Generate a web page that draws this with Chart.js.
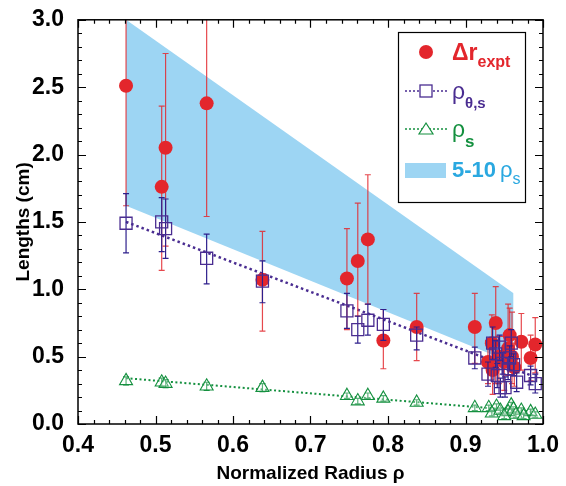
<!DOCTYPE html>
<html>
<head>
<meta charset="utf-8">
<script src="https://cdn.jsdelivr.net/npm/chart.js@4/dist/chart.umd.min.js"></script>
<style>
  html, body { margin: 0; padding: 0; background: #fff; }
</style>
</head>
<body>
<canvas id="lengthsChart" width="566" height="486"></canvas>
<script>
const drRho = [0.462, 0.508, 0.513, 0.566, 0.638, 0.747, 0.761, 0.774, 0.794, 0.837, 0.912, 0.939, 0.934, 0.929, 0.935, 0.943, 0.950, 0.955, 0.957, 0.960, 0.963, 0.972, 0.984, 0.990];
const drVal = [2.51, 1.76, 2.05, 2.38, 1.07, 1.08, 1.21, 1.37, 0.62, 0.72, 0.72, 0.75, 0.60, 0.46, 0.40, 0.50, 0.46, 0.56, 0.66, 0.50, 0.42, 0.61, 0.49, 0.59];
const drLo  = [1.62, 1.14, 1.32, 1.54, 0.69, 0.70, 0.80, 0.89, 0.41, 0.47, 0.45, 0.30, 0.40, 0.30, 0.22, 0.30, 0.25, 0.36, 0.42, 0.30, 0.28, 0.40, 0.32, 0.38];
const drHi  = [3.30, 2.36, 2.75, 3.30, 1.43, 1.45, 1.64, 1.85, 0.85, 0.97, 0.97, 1.02, 0.81, 0.62, 0.55, 0.65, 0.65, 0.89, 0.86, 0.83, 0.60, 0.82, 0.66, 0.79];

const rtsRho = [0.462, 0.508, 0.513, 0.566, 0.638, 0.747, 0.761, 0.774, 0.794, 0.837, 0.912, 0.935, 0.959, 0.939, 0.957, 0.929, 0.941, 0.945, 0.951, 0.966, 0.984, 0.990, 0.955, 0.948, 0.962, 0.944];
const rtsVal = [1.49, 1.50, 1.45, 1.23, 1.06, 0.84, 0.70, 0.77, 0.74, 0.66, 0.49, 0.60, 0.60, 0.52, 0.49, 0.37, 0.36, 0.27, 0.27, 0.31, 0.36, 0.30, 0.41, 0.45, 0.44, 0.57];
const rtsLo  = [1.27, 1.28, 1.23, 1.04, 0.90, 0.71, 0.60, 0.66, 0.62, 0.55, 0.41, 0.48, 0.50, 0.42, 0.40, 0.28, 0.27, 0.20, 0.20, 0.24, 0.29, 0.23, 0.33, 0.37, 0.36, 0.47];
const rtsHi  = [1.71, 1.68, 1.67, 1.41, 1.21, 0.97, 0.80, 0.89, 0.85, 0.72, 0.57, 0.72, 0.70, 0.62, 0.58, 0.46, 0.45, 0.34, 0.35, 0.38, 0.43, 0.37, 0.49, 0.53, 0.52, 0.66];

const rsRho = [0.462, 0.508, 0.513, 0.566, 0.638, 0.747, 0.761, 0.774, 0.794, 0.837, 0.912, 0.930, 0.940, 0.934, 0.945, 0.959, 0.955, 0.962, 0.972, 0.965, 0.984, 0.990, 0.950, 0.975];
const rsVal = [0.32, 0.31, 0.30, 0.28, 0.27, 0.21, 0.17, 0.21, 0.19, 0.16, 0.12, 0.12, 0.13, 0.08, 0.10, 0.14, 0.09, 0.11, 0.10, 0.07, 0.09, 0.07, 0.06, 0.06];
const rsErr = [0.03, 0.03, 0.03, 0.03, 0.03, 0.02, 0.02, 0.02, 0.02, 0.02, 0.02, 0.02, 0.02, 0.02, 0.02, 0.02, 0.02, 0.02, 0.02, 0.02, 0.02, 0.02, 0.02, 0.02];

// Trend lines and the 5-10 rho_s band
const thetaFitRho = [0.462, 0.985];
const thetaFitVal = [1.50, 0.36];
const sFitRho = [0.462, 0.990];
const sFitVal = [0.34, 0.09];
const bandRho = [0.462, 0.962];
const bandHi  = [3.00, 0.97];
const bandLo  = [1.62, 0.45];

// Axis ticks
const xTickLabels = ['0.4', '0.5', '0.6', '0.7', '0.8', '0.9', '1.0'];
const yTickLabels = ['0.0', '0.5', '1.0', '1.5', '2.0', '2.5', '3.0'];

const RED = '#e3262c';
const PURPLE = '#4a2d91';
const GREEN = '#14903f';
const BAND = '#9dd5f3';
const BAND_TEXT = '#2aa8e0';
const FONT = "'Liberation Sans', Arial, sans-serif";
const TICK_FONT = "'Liberation Sans Narrow', 'Arial Narrow', 'Liberation Sans', Arial, sans-serif";

function toPoints(xs, ys) {
    return xs.map((x, i) => ({ x: x, y: ys[i] }));
}

// Vertical error bars, drawn just before their own dataset
const errorBars = {
    id: 'errorBars',
    beforeDatasetDraw(chart, args) {
        const ds = chart.data.datasets[args.index];
        if (!ds.errLo) return;
        const { ctx, chartArea, scales } = chart;
        ctx.save();
        ctx.beginPath();
        ctx.rect(chartArea.left, chartArea.top, chartArea.width, chartArea.height);
        ctx.clip();
        ctx.strokeStyle = ds.errColor;
        ctx.lineWidth = 1.2;
        ds.data.forEach((p, i) => {
            const px = scales.x.getPixelForValue(p.x);
            const top = scales.y.getPixelForValue(ds.errHi[i]);
            const bot = scales.y.getPixelForValue(ds.errLo[i]);
            ctx.beginPath();
            ctx.moveTo(px, top); ctx.lineTo(px, bot);
            ctx.moveTo(px - 3, top); ctx.lineTo(px + 3, top);
            ctx.moveTo(px - 3, bot); ctx.lineTo(px + 3, bot);
            ctx.stroke();
        });
        ctx.restore();
    }
};

// Box frame with inward ticks on all four sides
const frameTicks = {
    id: 'frameTicks',
    afterDatasetsDraw(chart) {
        const { ctx, chartArea: a, scales } = chart;
        ctx.save();
        ctx.strokeStyle = '#000';
        ctx.lineWidth = 1.5;
        ctx.strokeRect(a.left, a.top, a.width, a.height);
        ctx.lineWidth = 1.2;
        ctx.beginPath();
        for (let k = 0; k <= 30; k++) {
            const v = 0.4 + k * 0.02;
            const px = Math.round(scales.x.getPixelForValue(v)) + 0.5;
            const len = k % 5 === 0 ? 8 : 4;
            ctx.moveTo(px, a.bottom); ctx.lineTo(px, a.bottom - len);
            ctx.moveTo(px, a.top); ctx.lineTo(px, a.top + len);
        }
        for (let k = 0; k <= 30; k++) {
            const v = k * 0.1;
            const py = Math.round(scales.y.getPixelForValue(v)) + 0.5;
            const len = k % 5 === 0 ? 8 : 4;
            ctx.moveTo(a.left, py); ctx.lineTo(a.left + len, py);
            ctx.moveTo(a.right, py); ctx.lineTo(a.right - len, py);
        }
        ctx.stroke();
        ctx.restore();
    }
};

// Legend with subscripts, drawn by hand
const subLegend = {
    id: 'subLegend',
    afterDraw(chart) {
        const ctx = chart.ctx;
        const bx = 398, by = 32, bw = 127, bh = 170;
        ctx.save();
        ctx.fillStyle = '#fff';
        ctx.fillRect(bx, by, bw, bh);
        ctx.strokeStyle = '#000';
        ctx.lineWidth = 1.2;
        ctx.strokeRect(bx + 0.5, by + 0.5, bw, bh);

        const sx = 426, tx = 452;
        ctx.textBaseline = 'alphabetic';

        // Delta r expt
        ctx.fillStyle = RED;
        ctx.beginPath(); ctx.arc(sx, 52, 7, 0, Math.PI * 2); ctx.fill();
        ctx.font = 'bold 23px ' + FONT;
        ctx.fillText('\u0394r', tx, 60);
        let w = ctx.measureText('\u0394r').width;
        ctx.font = 'bold 16px ' + FONT;
        ctx.fillText('expt', tx + w, 67);

        // rho theta,s
        ctx.strokeStyle = PURPLE;
        ctx.lineWidth = 1.5;
        ctx.setLineDash([2, 2]);
        ctx.beginPath(); ctx.moveTo(405, 91); ctx.lineTo(447, 91); ctx.stroke();
        ctx.setLineDash([]);
        ctx.lineWidth = 1.3;
        ctx.clearRect(sx - 6, 85, 12, 12);
        ctx.strokeRect(sx - 6, 85, 12, 12);
        ctx.fillStyle = PURPLE;
        ctx.font = '23px ' + FONT;
        ctx.fillText('\u03c1', tx, 99);
        w = ctx.measureText('\u03c1').width;
        ctx.font = 'bold 15px ' + FONT;
        ctx.fillText('\u03b8,s', tx + w, 108);

        // rho s
        ctx.strokeStyle = GREEN;
        ctx.lineWidth = 1.5;
        ctx.setLineDash([2, 2]);
        ctx.beginPath(); ctx.moveTo(405, 129); ctx.lineTo(447, 129); ctx.stroke();
        ctx.setLineDash([]);
        ctx.lineWidth = 1.2;
        ctx.fillStyle = '#fff';
        ctx.beginPath();
        ctx.moveTo(sx, 123); ctx.lineTo(sx + 7, 134); ctx.lineTo(sx - 7, 134); ctx.closePath();
        ctx.fill(); ctx.stroke();
        ctx.fillStyle = GREEN;
        ctx.font = '23px ' + FONT;
        ctx.fillText('\u03c1', tx, 137);
        w = ctx.measureText('\u03c1').width;
        ctx.font = 'bold 17px ' + FONT;
        ctx.fillText('s', tx + w, 147);

        // 5-10 rho s band
        ctx.fillStyle = BAND;
        ctx.fillRect(405, 163, 41, 15);
        ctx.fillStyle = BAND_TEXT;
        ctx.font = 'bold 22px ' + FONT;
        ctx.fillText('5-10', tx, 177);
        ctx.font = '22px ' + FONT;
        ctx.fillText('\u03c1', 500, 177);
        w = ctx.measureText('\u03c1').width;
        ctx.font = '16px ' + FONT;
        ctx.fillText('s', 500 + w, 184);
        ctx.restore();
    }
};

function createLengthsChart() {
    const ctx = document.getElementById('lengthsChart');
    return new Chart(ctx, {
        type: 'line',
        data: {
            datasets: [
                {
                    label: 'band top',
                    data: toPoints(bandRho, bandHi),
                    borderWidth: 0,
                    pointRadius: 0,
                    backgroundColor: BAND,
                    fill: '+1',
                    order: 10
                },
                {
                    label: 'band bottom',
                    data: toPoints(bandRho, bandLo),
                    borderWidth: 0,
                    pointRadius: 0,
                    fill: false,
                    order: 9
                },
                {
                    label: 'theta fit',
                    data: toPoints(thetaFitRho, thetaFitVal),
                    borderColor: PURPLE,
                    borderWidth: 2.5,
                    borderDash: [2.5, 3],
                    pointRadius: 0,
                    fill: false,
                    order: 8
                },
                {
                    label: 's fit',
                    data: toPoints(sFitRho, sFitVal),
                    borderColor: GREEN,
                    borderWidth: 2,
                    borderDash: [2, 2.5],
                    pointRadius: 0,
                    fill: false,
                    order: 7
                },
                {
                    label: '\u0394r expt',
                    data: toPoints(drRho, drVal),
                    errLo: drLo,
                    errHi: drHi,
                    errColor: 'rgba(226, 40, 46, 0.85)',
                    showLine: false,
                    pointStyle: 'circle',
                    pointRadius: 7,
                    pointBackgroundColor: RED,
                    pointBorderColor: RED,
                    pointBorderWidth: 0,
                    order: 3
                },
                {
                    label: '\u03c1\u03b8,s',
                    data: toPoints(rtsRho, rtsVal),
                    errLo: rtsLo,
                    errHi: rtsHi,
                    errColor: '#2e1f8c',
                    showLine: false,
                    pointStyle: 'rect',
                    pointRadius: 8.5,
                    pointBackgroundColor: 'rgba(0,0,0,0)',
                    pointBorderColor: PURPLE,
                    pointBorderWidth: 1.3,
                    order: 2
                },
                {
                    label: '\u03c1s',
                    data: toPoints(rsRho, rsVal),
                    errLo: rsVal.map((v, i) => v - rsErr[i]),
                    errHi: rsVal.map((v, i) => v + rsErr[i]),
                    errColor: GREEN,
                    showLine: false,
                    pointStyle: 'triangle',
                    pointRadius: 7.5,
                    pointBackgroundColor: 'rgba(255,255,255,0.3)',
                    pointBorderColor: GREEN,
                    pointBorderWidth: 1.1,
                    order: 1
                }
            ]
        },
        options: {
            responsive: false,
            animation: false,
            devicePixelRatio: 1,
            layout: { padding: { top: 18, right: 23, left: 0, bottom: 0 } },
            plugins: {
                legend: { display: false },
                tooltip: { enabled: false }
            },
            scales: {
                x: {
                    type: 'linear',
                    min: 0.4,
                    max: 1.0,
                    afterBuildTicks: (scale) => {
                        scale.ticks = xTickLabels.map(t => ({ value: parseFloat(t) }));
                    },
                    afterFit: (scale) => { scale.height = 62; },
                    grid: { display: false },
                    border: { display: false },
                    ticks: {
                        padding: 0,
                        color: '#000',
                        maxRotation: 0,
                        font: { family: TICK_FONT, size: 23, weight: 'bold' },
                        callback: (v) => xTickLabels.find(t => Math.abs(parseFloat(t) - v) < 1e-6) || ''
                    },
                    title: {
                        display: true,
                        text: 'Normalized Radius \u03c1',
                        color: '#000',
                        font: { family: FONT, size: 19, weight: 'bold' },
                        padding: { top: 0, bottom: 1 }
                    }
                },
                y: {
                    type: 'linear',
                    min: 0,
                    max: 3.0,
                    afterBuildTicks: (scale) => {
                        scale.ticks = yTickLabels.map(t => ({ value: parseFloat(t) }));
                    },
                    afterFit: (scale) => { scale.width = 78; },
                    grid: { display: false },
                    border: { display: false },
                    ticks: {
                        padding: 6,
                        color: '#000',
                        font: { family: TICK_FONT, size: 23, weight: 'bold' },
                        callback: (v) => yTickLabels.find(t => Math.abs(parseFloat(t) - v) < 1e-6) || ''
                    },
                    title: {
                        display: true,
                        text: 'Lengths (cm)',
                        color: '#000',
                        font: { family: FONT, size: 19, weight: 'bold' },
                        padding: { top: 12, bottom: 0 }
                    }
                }
            }
        },
        plugins: [errorBars, frameTicks, subLegend]
    });
}

createLengthsChart();
</script>
</body>
</html>
